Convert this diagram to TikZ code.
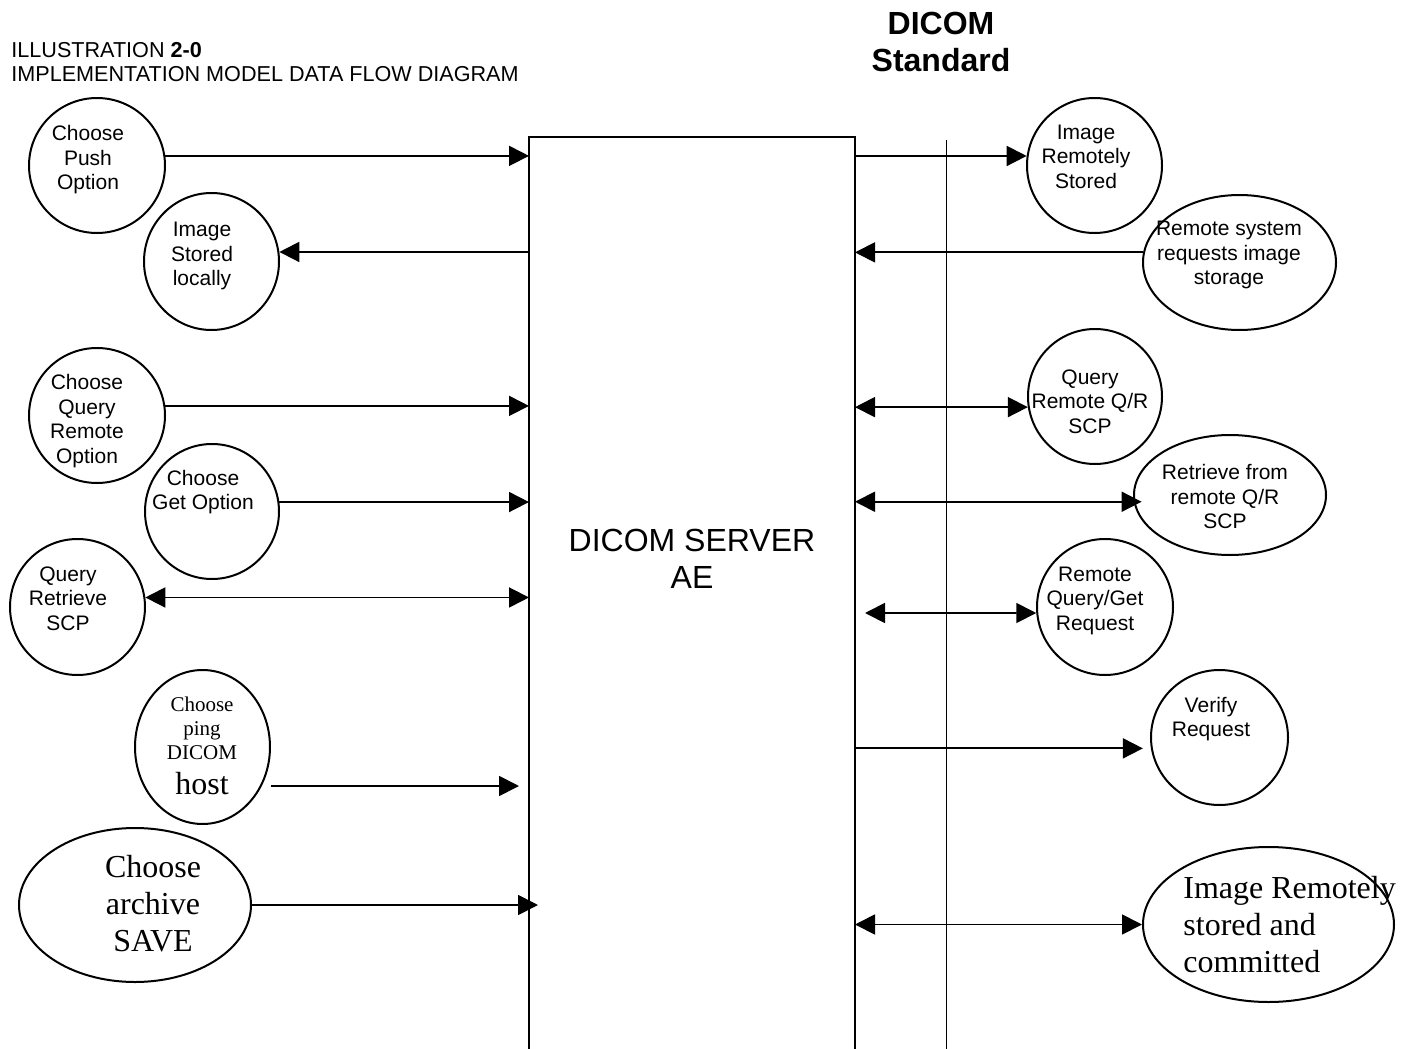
\documentclass[tikz,border=0pt]{standalone}
\usepackage{fontspec}
\setmainfont{Liberation Serif}
\setsansfont{Liberation Sans}
\usetikzlibrary{arrows.meta,shapes.geometric}
\begin{document}
\begin{tikzpicture}[x=0.5pt,y=-0.5pt,
  bubble/.style={draw,ellipse,line width=1pt,inner sep=0pt},
  txt/.style={align=center,inner sep=0pt,font=\sffamily\fontsize{10.5}{12.25}\selectfont},
  big/.style={align=left,inner sep=0pt,font=\rmfamily\fontsize{16}{18.5}\selectfont},
  flow/.style={line width=0.9pt,-{Triangle[length=10pt,width=10pt]}},
  both/.style={line width=0.9pt,{Triangle[length=10pt,width=10pt]}-{Triangle[length=10pt,width=10pt]}}]
\useasboundingbox (0,0) rectangle (1410,1049);
\clip (0,0) rectangle (1410,1049);
\node[anchor=base west,inner sep=0pt,font=\sffamily\fontsize{10.8}{12.5}\selectfont] (title) at (11,57) {ILLUSTRATION \textbf{2-0}};
\node[anchor=base west,inner sep=0pt,font=\sffamily\fontsize{10.8}{12.5}\selectfont] (subtitle) at (11,82) {IMPLEMENTATION MODEL DATA FLOW DIAGRAM};
\node[align=center,inner sep=0pt,font=\sffamily\bfseries\fontsize{16}{18.5}\selectfont] (std) at (941,42) {DICOM\\Standard};
% server box
\node[draw,line width=1pt,outer sep=0pt,inner sep=0pt,minimum width=163pt,minimum height=500pt,anchor=north] (server) at (692,137) {};
\node[align=center,inner sep=0pt,font=\sffamily\fontsize{16}{18.5}\selectfont] (srvname) at (692,559) {DICOM SERVER\\AE};
\draw[line width=0.5pt] (946,140) -- (946,1060);
% left side
\node[bubble,minimum width=68pt,minimum height=67.5pt] (push) at (97,165.5) {};
\node[txt] (pushtxt) at (88,160) {Choose\\Push\\Option};
\node[bubble,minimum width=67.5pt,minimum height=68.5pt] (stored) at (211.5,261.5) {};
\node[txt] (storedtxt) at (202,256) {Image\\Stored\\locally};
\node[bubble,minimum width=68pt,minimum height=67.5pt] (query) at (97,415.5) {};
\node[txt] (querytxt) at (87,421) {Choose\\Query\\Remote\\Option};
\node[bubble,minimum width=67pt,minimum height=67.5pt] (get) at (212,511.5) {};
\node[txt] (gettxt) at (203,492) {Choose\\Get Option};
\node[bubble,minimum width=67.5pt,minimum height=68pt] (qrscp) at (77.5,607) {};
\node[txt] (qrscptxt) at (68,598.5) {Query\\Retrieve\\SCP};
\node[bubble,minimum width=67.5pt,minimum height=77pt] (ping) at (202.5,747) {};
\node[txt,font=\rmfamily\fontsize{10.5}{12}\selectfont] (pingtxt) at (202,746) {Choose\\ping\\DICOM\\[5.5pt]\fontsize{16}{12}\selectfont host};
\node[bubble,minimum width=116pt,minimum height=77pt] (archive) at (135,905) {};
\node[big,align=center] (archivetxt) at (153,904) {Choose\\archive\\SAVE};
% right side
\node[bubble,minimum width=67.5pt,minimum height=67.5pt] (remstored) at (1094.5,165.5) {};
\node[txt] (remstoredtxt) at (1086,156.5) {Image\\Remotely\\Stored};
\node[bubble,minimum width=96.5pt,minimum height=67.5pt] (sysreq) at (1239.5,262.5) {};
\node[txt] (sysreqtxt) at (1229,255) {Remote system\\requests image\\storage};
\node[bubble,minimum width=67pt,minimum height=67.5pt] (qrremote) at (1095,396.5) {};
\node[txt] (qrremotetxt) at (1090,401.5) {Query\\Remote Q/R\\SCP};
\node[bubble,minimum width=96pt,minimum height=60pt] (retrieve) at (1230,495) {};
\node[txt] (retrievetxt) at (1225,496.5) {Retrieve from\\remote Q/R\\SCP};
\node[bubble,minimum width=68pt,minimum height=68pt] (getreq) at (1105,607) {};
\node[txt] (getreqtxt) at (1095,600.5) {Remote\\Query/Get\\Request};
\node[bubble,minimum width=68.5pt,minimum height=67.5pt] (verify) at (1219.5,737.5) {};
\node[txt] (verifytxt) at (1211,719) {Verify\\Request};
\node[bubble,minimum width=125.5pt,minimum height=77.5pt] (committed) at (1268.5,924.5) {};
\node[big,anchor=west] (committedtxt) at (1183,925) {Image Remotely\\stored and\\committed};
% connectors
\coordinate (pingend) at (519,786);
\coordinate (saveend) at (538,905);
\coordinate (qgstart) at (865,613);
\draw[flow] (push.8) -- (push.8 -| server.west);
\draw[flow] (stored.8 -| server.west) -- (stored.8);
\draw[flow] (query.8) -- (query.8 -| server.west);
\draw[flow] (get.8) -- (get.8 -| server.west);
\draw[both] (qrscp.8) -- (qrscp.8 -| server.west);
\draw[flow] (ping.east |- pingend) -- (pingend);
\draw[flow] (archive.east) -- (saveend);
\draw[flow] (remstored.172 -| server.east) -- (remstored.172);
\draw[flow] (sysreq.174) -- (sysreq.174 -| server.east);
\draw[both] (qrremote.189 -| server.east) -- (qrremote.189);
\draw[both,shorten >=-4pt] (retrieve.184 -| server.east) -- (retrieve.184);
\draw[both] (qgstart) -- (getreq.185);
\draw[flow,shorten >=4pt] (verify.189 -| server.east) -- (verify.189);
\draw[both] (committed.west -| server.east) -- (committed.west);
\end{tikzpicture}
\end{document}
